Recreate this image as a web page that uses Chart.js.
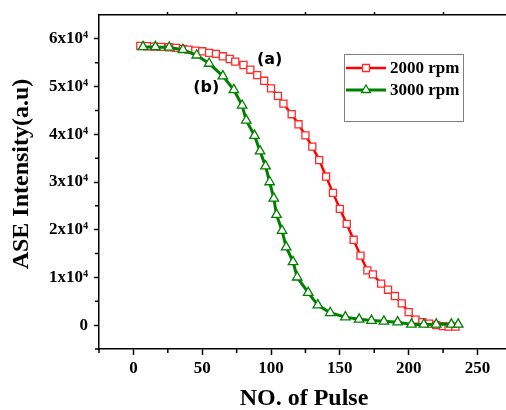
<!DOCTYPE html>
<html>
<head>
<meta charset="utf-8">
<script src="https://cdn.jsdelivr.net/npm/chart.js@4.4.1/dist/chart.umd.min.js"></script>
<style>
  html, body { margin: 0; padding: 0; background: #fff; }
</style>
</head>
<body>
<canvas id="aseChart" width="506" height="410"></canvas>
<script>
// data
const pulses2000 = [5, 10, 15, 20, 26, 31, 36, 40, 45, 50, 55, 60, 65, 70, 74, 80, 85, 90, 95, 100,
  105, 109, 115, 120, 125, 130, 135, 140, 145, 150, 155, 160, 165, 170, 174, 180, 185, 190, 195, 200,
  205, 210, 215, 220, 225, 229, 234];
const intensity2000 = [58520, 58450, 58370, 58310, 58240, 58100, 57890, 57740, 57530, 57400,
  57050, 56840, 56350, 55780, 55220, 54520, 53530, 52410, 51210, 49610,
  48060, 46420, 44210, 42100, 39780, 37410, 34590, 31150, 27720, 24380,
  21220, 17890, 14570, 11470, 10630, 8690, 7430, 6100, 4570, 2740,
  1160, 630, 320, 0, -210, -320, -320];

const pulses3000 = [7, 16, 26, 36, 46, 55, 65, 73, 79, 82, 88, 92, 96, 99, 102, 104, 108, 111, 116, 119,
  127, 134, 143, 154, 164, 173, 182, 192, 202, 211, 220, 231, 236];
const intensity3000 = [58310, 58310, 58200, 57720, 56560, 54840, 52200, 49320, 46040, 42900,
  39720, 36460, 33320, 30000, 26570, 23160, 19790, 16360, 13260, 10040,
  6800, 4210, 2590, 1680, 1220, 950, 800, 630, 150, 150,
  170, 170, 170];

const seriesNames = ["2000 rpm", "3000 rpm"];
const xTicks = [0, 50, 100, 150, 200, 250];
const xMinorTicks = [-25, 25, 75, 125, 175, 225];
const yTicks = [0, 10000, 20000, 30000, 40000, 50000, 60000];
const yMinorTicks = [-5000, 5000, 15000, 25000, 35000, 45000, 55000];
const yTickLabels = ["0", "1x10\u2074", "2x10\u2074", "3x10\u2074", "4x10\u2074", "5x10\u2074", "6x10\u2074"];
const xTitle = "NO. of Pulse";
const yTitle = "ASE Intensity(a.u)";
// curve labels: [text, pulse, intensity]
const curveLabels = [["(a)", 99, 55600], ["(b)", 53, 49700]];

const RED = "#ff0000";
const GREEN = "#008000";
const serif = "'Liberation Serif', 'Times New Roman', 'DejaVu Serif', serif";

const toPoints = (xs, ys) => xs.map((x, i) => ({ x: x, y: ys[i] }));

// minor ticks, axis titles, curve labels and the boxed legend
const decorPlugin = {
  id: "decor",
  afterDraw(chart) {
    const { ctx, chartArea, scales } = chart;
    ctx.save();
    ctx.strokeStyle = "#000";
    ctx.lineWidth = 1.5;
    ctx.beginPath();
    xMinorTicks.forEach((v) => {
      const px = scales.x.getPixelForValue(v);
      ctx.moveTo(px, chartArea.bottom);
      ctx.lineTo(px, chartArea.bottom + 4);
    });
    yMinorTicks.forEach((v) => {
      const py = scales.y.getPixelForValue(v);
      ctx.moveTo(chartArea.left, py);
      ctx.lineTo(chartArea.left - 4, py);
    });
    ctx.stroke();

    // axis titles
    ctx.fillStyle = "#000";
    ctx.font = "bold 24px " + serif;
    ctx.textAlign = "center";
    ctx.textBaseline = "middle";
    ctx.fillText(xTitle, 304, 399);
    ctx.save();
    ctx.translate(22, 174);
    ctx.rotate(-Math.PI / 2);
    ctx.fillText(yTitle, 0, 0);
    ctx.restore();

    // (a) / (b)
    ctx.font = "bold 16px 'DejaVu Sans', Verdana, sans-serif";
    curveLabels.forEach(([t, x, y]) => {
      ctx.fillText(t, scales.x.getPixelForValue(x), scales.y.getPixelForValue(y));
    });

    // legend box
    const bx = 344, by = 54, bw = 119, bh = 67;
    ctx.strokeStyle = "#808080";
    ctx.lineWidth = 1;
    ctx.strokeRect(bx + 0.5, by + 0.5, bw, bh);
    ctx.font = "bold 17px " + serif;
    ctx.textAlign = "left";
    chart.data.datasets.forEach((ds, i) => {
      const ly = 68 + i * 22;
      ctx.strokeStyle = ds.borderColor;
      ctx.lineWidth = ds.borderWidth;
      ctx.beginPath();
      ctx.moveTo(346, ly);
      ctx.lineTo(386, ly);
      ctx.stroke();
      ctx.lineWidth = 1.3;
      ctx.fillStyle = "#fff";
      ctx.strokeStyle = ds.pointBorderColor;
      ctx.beginPath();
      if (ds.pointStyle === "rect") {
        ctx.rect(362.5, ly - 3.5, 7, 7);
      } else {
        ctx.moveTo(366, ly - 5);
        ctx.lineTo(370.5, ly + 2.5);
        ctx.lineTo(361.5, ly + 2.5);
        ctx.closePath();
      }
      ctx.fill();
      ctx.stroke();
      ctx.fillStyle = "#000";
      ctx.fillText(ds.label, 390, ly + 1);
    });
    ctx.restore();
  },
};

const tickFont = { family: serif, size: 17, weight: "bold" };

const fixHorizontal = (h) => (s) => { s.height = h; s.paddingLeft = 0; s.paddingRight = 0; };

new Chart(document.getElementById("aseChart"), {
  type: "scatter",
  data: {
    datasets: [
      {
        label: seriesNames[0],
        data: toPoints(pulses2000, intensity2000),
        showLine: true,
        borderColor: RED,
        borderWidth: 2.5,
        pointStyle: "rect",
        pointRadius: 5,
        pointBorderWidth: 1.3,
        pointBorderColor: "#ff2a2a",
        pointBackgroundColor: "#fff",
        order: 2,
      },
      {
        label: seriesNames[1],
        data: toPoints(pulses3000, intensity3000),
        showLine: true,
        borderColor: GREEN,
        borderWidth: 3,
        pointStyle: "triangle",
        pointRadius: 5.5,
        pointBorderWidth: 1.3,
        pointBorderColor: GREEN,
        pointBackgroundColor: "#fff",
        order: 1,
      },
    ],
  },
  options: {
    responsive: false,
    animation: false,
    layout: { autoPadding: false, padding: { left: 0, right: 1, top: 0, bottom: 0 } },
    plugins: { legend: { display: false }, tooltip: { enabled: false } },
    scales: {
      x: {
        type: "linear",
        position: "bottom",
        min: -25,
        max: 270,
        afterBuildTicks: (s) => { s.ticks = xTicks.map((v) => ({ value: v })); },
        afterFit: fixHorizontal(61),
        grid: { drawOnChartArea: false, tickLength: 6, tickColor: "#000", tickWidth: 1.5 },
        border: { color: "#000", width: 1.5 },
        ticks: { color: "#000", font: tickFont, padding: 3, maxRotation: 0 },
      },
      x2: {
        type: "linear",
        position: "top",
        min: -25,
        max: 270,
        afterBuildTicks: (s) => { s.ticks = xMinorTicks.slice(1).map((v) => ({ value: v })); },
        afterFit: fixHorizontal(15),
        grid: { drawOnChartArea: false, tickLength: 3, tickColor: "#000", tickWidth: 1.5 },
        border: { color: "#000", width: 1.5 },
        ticks: { callback: () => "", padding: 0 },
      },
      y: {
        type: "linear",
        min: -5000,
        max: 65000,
        afterBuildTicks: (s) => { s.ticks = yTicks.map((v) => ({ value: v })); },
        afterFit: (s) => { s.width = 99; s.paddingTop = 0; s.paddingBottom = 0; },
        grid: { drawOnChartArea: false, tickLength: 5, tickColor: "#000", tickWidth: 1.5 },
        border: { color: "#000", width: 1.5 },
        ticks: {
          color: "#000",
          font: tickFont,
          padding: 6,
          callback: (v) => yTickLabels[yTicks.indexOf(v)],
        },
      },
    },
  },
  plugins: [decorPlugin],
});
</script>
</body>
</html>
